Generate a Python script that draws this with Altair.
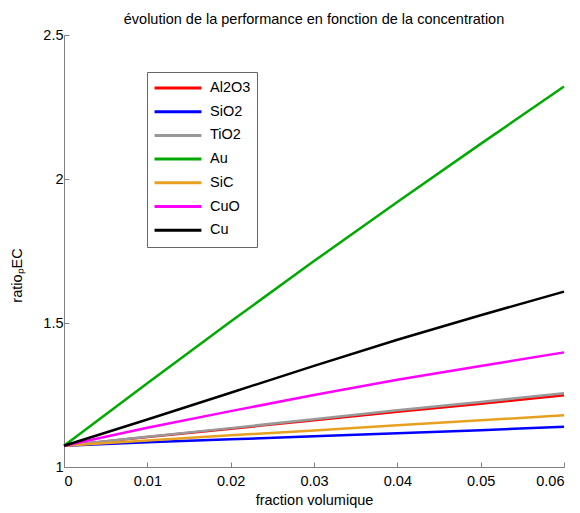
import altair as alt
import pandas as pd

fractions = [0.0, 0.01, 0.02, 0.03, 0.04, 0.05, 0.06]
series_names = ["Al2O3", "SiO2", "TiO2", "Au", "SiC", "CuO", "Cu"]
series_colors = ["#ff0000", "#0000ff", "#999999", "#00aa00", "#e8a020", "#ff00ff", "#000000"]

al2o3 = [1.074, 1.104, 1.133, 1.162, 1.192, 1.220, 1.249]
sio2 = [1.074, 1.086, 1.096, 1.107, 1.117, 1.128, 1.140]
tio2 = [1.074, 1.105, 1.135, 1.166, 1.197, 1.226, 1.256]
au = [1.074, 1.291, 1.505, 1.715, 1.920, 2.122, 2.321]
sic = [1.074, 1.092, 1.110, 1.127, 1.145, 1.162, 1.180]
cuo = [1.074, 1.136, 1.194, 1.250, 1.303, 1.351, 1.398]
cu = [1.074, 1.165, 1.258, 1.351, 1.442, 1.527, 1.609]

x_ticks = [0, 0.01, 0.02, 0.03, 0.04, 0.05, 0.06]
y_ticks = [1, 1.5, 2, 2.5]

all_series = [al2o3, sio2, tio2, au, sic, cuo, cu]
rows = []
for name, vals in zip(series_names, all_series):
    for i, (fx, v) in enumerate(zip(fractions, vals)):
        rows.append({"fraction": fx, "ratio": v, "material": name, "order": i})
df = pd.DataFrame(rows)

font = "Liberation Sans"
inward = {"expr": "-5"}
fs = 14.5

chart = alt.Chart(df).mark_line(strokeWidth=2.5).encode(
    x=alt.X("fraction:Q",
            scale=alt.Scale(domain=[0, 0.06], nice=False, zero=False),
            axis=alt.Axis(title="fraction volumique", values=x_ticks, format="~g",
                          grid=False, tickSize=inward,
                          labelPadding=12, titlePadding=6)),
    y=alt.Y("ratio:Q",
            scale=alt.Scale(domain=[1, 2.5], nice=False, zero=False),
            axis=alt.Axis(title="ratioₚEC", values=y_ticks, format="~g",
                          grid=False, tickSize=inward, labelPadding=6,
                          titlePadding=18, titleY=240)),
    color=alt.Color("material:N",
                    scale=alt.Scale(domain=series_names, range=series_colors),
                    sort=series_names,
                    legend=alt.Legend(title=None, orient="none", legendX=83, legendY=37,
                                      symbolType="stroke", symbolSize=2200,
                                      symbolStrokeWidth=3, clipHeight=20,
                                      rowPadding=3.7, padding=6,
                                      strokeColor="#666666", fillColor="white",
                                      labelFontSize=fs, labelFont=font,
                                      labelColor="black", labelOffset=7)),
    order="order:Q",
    detail="material:N",
).properties(
    width=500,
    height=432,
    title=alt.TitleParams("évolution de la performance en fonction de la concentration",
                          fontSize=fs, font=font, fontWeight="normal", color="black",
                          offset=0),
    autosize=alt.AutoSizeParams(type="none"),
    padding={"left": 56, "top": 27, "right": 8, "bottom": 46},
).configure_view(
    stroke=None
).configure_axis(
    domainColor="#808080",
    tickColor="#808080",
    labelFont=font,
    titleFont=font,
    labelFontSize=fs,
    titleFontSize=fs,
    labelColor="black",
    titleColor="black",
    titleFontWeight="normal",
)

chart.save("out.html", embed_options={"renderer": "svg", "actions": False})
